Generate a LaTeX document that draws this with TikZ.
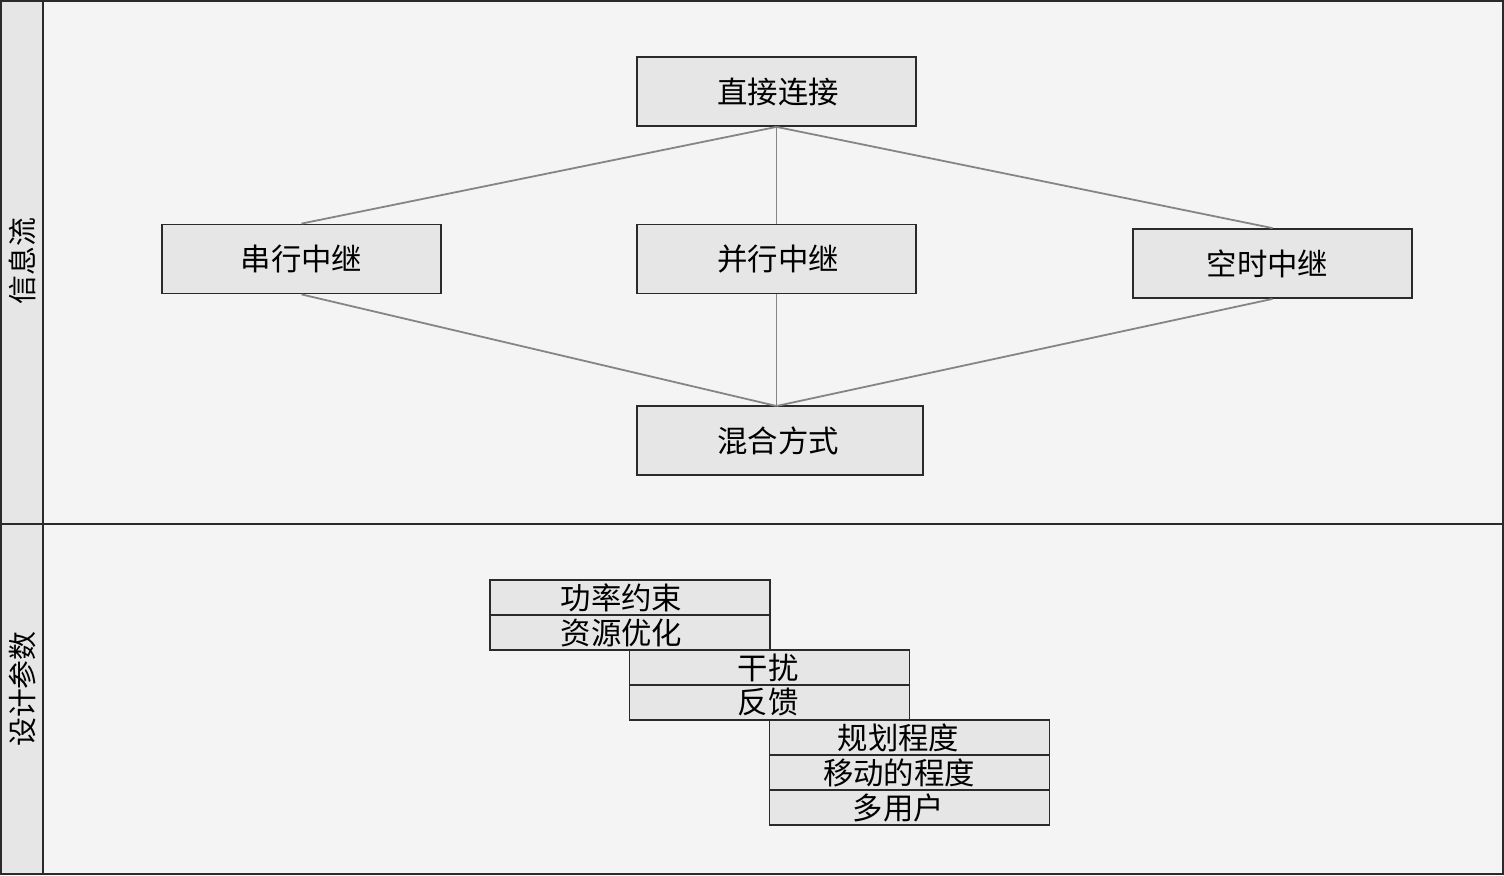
\documentclass[tikz,border=0pt]{standalone}
\usepackage{fontspec}
\newfontfamily\cjk{Noto Sans CJK SC}
\definecolor{bgmain}{HTML}{F4F4F4}
\definecolor{bgside}{HTML}{E6E6E6}
\definecolor{boxfill}{HTML}{E6E6E6}
\definecolor{frame}{HTML}{2A2A2A}
\definecolor{link}{HTML}{858585}
\tikzset{
  topbox/.style={draw=frame, fill=boxfill, line width=1.8bp, minimum width=279bp, minimum height=69bp, inner sep=0pt, font=\cjk\fontsize{30.5}{31}\selectfont},
  parbox/.style={draw=frame, fill=boxfill, line width=1.8bp, minimum width=280bp, minimum height=35bp, inner sep=0pt, font=\cjk\fontsize{30.5}{31}\selectfont},
  link/.style={draw=link, line width=1.8bp},
  lanelabel/.style={rotate=90, inner sep=0pt, font=\cjk\fontsize{29}{30}\selectfont}
}
\newcommand{\txtshift}[2]{\kern#1bp\relax#2}
\begin{document}
\begin{tikzpicture}[x=1bp, y=-1bp]
\useasboundingbox (0,0) rectangle (1504,875);
% backgrounds
\fill[bgmain] (0,0) rectangle (1504,875);
\fill[bgside] (0,0) rectangle (43,875);
\draw[frame, line width=2bp] (1,1) rectangle (1503,874);
\draw[frame, line width=2bp] (43,1) -- (43,874);
\draw[frame, line width=2bp] (1,524) -- (1503,524);
% lane labels
\node[lanelabel] (lane1) at (22,261) {信息流};
\node[lanelabel] (lane2) at (22,689) {设计参数};
% upper nodes
\node[topbox] (direct) at (776.5,91.5) {\txtshift{3}{直接连接}};
\node[topbox] (serial) at (301.5,259) {串行中继};
\node[topbox] (parallel) at (776.5,259) {\txtshift{3}{并行中继}};
\node[topbox] (spacetime) at (1272.5,263.5) {\txtshift{-10}{空时中继}};
\node[topbox, minimum width=286bp] (hybrid) at (780,440.5) {\txtshift{-4}{混合方式}};
\coordinate (hybridtop) at (776.5,406);
% connectors
\draw[link] (direct.south) -- (serial.north);
\draw[link] (direct.south) -- (parallel.north);
\draw[link] (direct.south) -- (spacetime.north);
\draw[link] (serial.south) -- (hybridtop);
\draw[link] (parallel.south) -- (hybridtop);
\draw[link] (spacetime.south) -- (hybridtop);
% design parameters
\node[parbox] (p1) at (630,597.5) {\txtshift{-17}{功率约束}};
\node[parbox] (p2) at (630,632.5) {\txtshift{-17}{资源优化}};
\node[parbox] (p3) at (769.5,667.5) {\txtshift{-3}{干扰}};
\node[parbox] (p4) at (769.5,702.5) {\txtshift{-3}{反馈}};
\node[parbox] (p5) at (909.5,737.5) {\txtshift{-22}{规划程度}};
\node[parbox] (p6) at (909.5,772.5) {\txtshift{-21}{移动的程度}};
\node[parbox] (p7) at (909.5,807.5) {\txtshift{-22}{多用户}};
\end{tikzpicture}
\end{document}
